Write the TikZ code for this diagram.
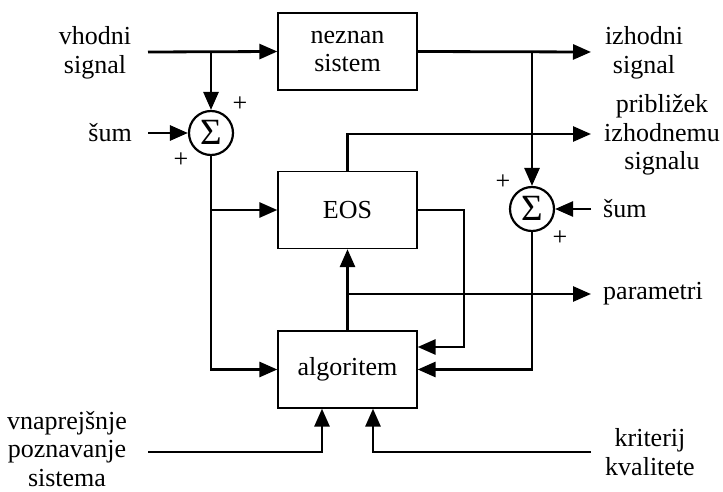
\documentclass[tikz,border=0pt]{standalone}
\usepackage{fontspec}
\setmainfont{Liberation Serif}
\usetikzlibrary{arrows.meta,calc}
\begin{document}
\begin{tikzpicture}[x=1pt,y=-1pt,
  every node/.style={font=\fontsize{26}{28.5}\selectfont},
  blk/.style={draw,line width=1.3pt,minimum width=139pt,minimum height=77pt,inner sep=0pt,align=center},
  sumc/.style={draw,circle,line width=2.2pt,minimum size=44pt,inner sep=0pt,font=\fontsize{37}{37}\selectfont},
  lbl/.style={align=center,inner sep=0pt},
  pl/.style={font=\fontsize{26}{26}\selectfont,inner sep=0pt},
  arr/.style={line width=2.8pt,-{Triangle[length=18pt,width=15pt]}}]
\useasboundingbox (0,0) rectangle (723,492);
% blocks
\node[blk] (nez) at (347.5,51.5) {neznan\\sistem};
\node[blk] (eos) at (347.5,210) {EOS};
\node[blk] (alg) at (347.5,369.5) {algoritem};
\node[sumc] (s1) at (211,133) {\raisebox{1pt}{Σ}};
\node[sumc] (s2) at (532,209) {\raisebox{1pt}{Σ}};
% free ends
\coordinate (in) at (148,52);
\coordinate (nl) at (148,133);
\coordinate (out) at (591,52);
\coordinate (appr) at (591,134);
\coordinate (nr) at (591,209);
\coordinate (par) at (591,294);
\coordinate (pre) at (148,452);
\coordinate (kr) at (591,452);
\coordinate (c1) at (322,452);
\coordinate (c2) at (373,452);
\coordinate (fb) at (464,347);
% labels
\node[lbl] (lin) at (95,53) {vhodni\\signal};
\node[lbl,anchor=east] (lnl) at (132,133) {šum};
\node[lbl] (lout) at (644,53) {izhodni\\signal};
\node[lbl] (lappr) at (662,135) {približek\\izhodnemu\\signalu};
\node[lbl,anchor=west] (lnr) at (603,209) {šum};
\node[lbl,anchor=west] (lpar) at (603,294) {parametri};
\node[lbl] (lpre) at (67,449) {vnaprejšnje\\poznavanje\\sistema};
\node[lbl] (lkr) at (650,452) {kriterij\\kvalitete};
\node[pl] (p1) at (240,104) {+};
\node[pl] (p2) at (181,160) {+};
\node[pl] (p3) at (503,182) {+};
\node[pl] (p4) at (560,238) {+};
% connectors
\draw[arr] (in) -- (nez.west);
\draw[arr] (s1 |- in) -- (s1.north);
\draw[arr] (nl) -- (s1.west);
\draw[arr] (s1.south) |- (alg.west);
\draw[arr] (s1 |- eos.west) -- (eos.west);
\draw[arr] (nez.east) -- (out);
\draw[arr] (s2 |- out) -- (s2.north);
\draw[arr] (eos.north) |- (appr);
\draw[arr] (nr) -- (s2.east);
\draw[arr] (s2.south) |- (alg.east);
\draw[arr] (eos.east) -| (fb) -- (alg.east |- fb);
\draw[arr] (alg.north) -- (eos.south);
\draw[arr] (alg.north |- par) -- (par);
\draw[arr] (pre) -- (c1) -- (alg.south -| c1);
\draw[arr] (kr) -- (c2) -- (alg.south -| c2);
\end{tikzpicture}
\end{document}
